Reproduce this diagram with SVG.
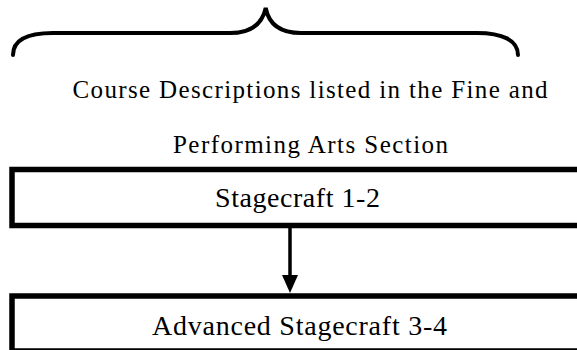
<svg xmlns="http://www.w3.org/2000/svg" width="577" height="350" viewBox="0 0 577 350">
<style>
.t{font-family:"Liberation Serif","Times New Roman",serif;fill:#000;text-anchor:middle}
.box{fill:#fff;stroke:#000;stroke-width:5.5}
</style>
<rect width="577" height="350" fill="#fff"/>
<g id="brace">
<path d="M13,55 C13,40 28,33 53,33 L230,33 C250,33 262,25 265.7,8 C269,25 281,33 301,33 L477,33 C502,33 518,40 518,55" fill="none" stroke="#000" stroke-width="4" stroke-linecap="round"/>
</g>
<g id="caption">
<text class="t" x="310" y="98" font-size="25" textLength="475">Course Descriptions listed in the Fine and</text>
<text class="t" x="310.5" y="153" font-size="25" textLength="275">Performing Arts Section</text>
</g>
<g id="node1">
<rect class="box" x="12" y="169.5" width="600" height="56"/>
<text class="t" x="297.5" y="207" font-size="28" textLength="165">Stagecraft 1-2</text>
</g>
<g id="node2">
<rect class="box" x="12" y="296" width="600" height="55"/>
<text class="t" x="299.5" y="335" font-size="28" textLength="295">Advanced Stagecraft 3-4</text>
</g>
<g id="connectors">
<line x1="290" y1="228" x2="290" y2="277" stroke="#000" stroke-width="3.5"/>
<polygon points="282,275 298,275 290,293" fill="#000"/>
</g>
</svg>
